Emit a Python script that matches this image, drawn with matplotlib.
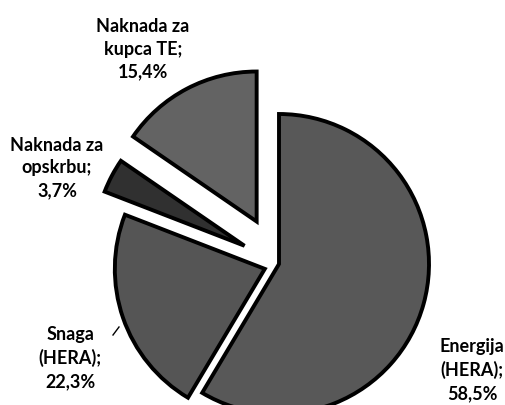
import matplotlib.pyplot as plt

# Cost structure shares (%)
labels = ["Energija\n(HERA);", "Snaga\n(HERA);", "Naknada za\nopskrbu;", "Naknada za\nkupca TE;"]
shares = [58.5, 22.3, 3.7, 15.4]
colors = ["#585858", "#555555", "#303030", "#636363"]
explode = [0, 15, 39, 48]

# label anchor points in figure pixels (x, y from top)
label_pos = [(472, 370), (70, 358), (57, 168), (143, 49)]

W, H = 505, 406
fig = plt.figure(figsize=(W / 100, H / 100), dpi=100)
ax = fig.add_axes([0, 0, 1, 1])

ax.pie(
    shares,
    colors=colors,
    explode=explode,
    startangle=90,
    counterclock=False,
    radius=150,
    center=(279, H - 265),
    frame=True,
    wedgeprops=dict(edgecolor="black", linewidth=2.8, joinstyle="miter"),
)
ax.set_xlim(0, W)
ax.set_ylim(0, H)
ax.set_aspect("equal")
ax.axis("off")

for lab, val, (x, y) in zip(labels, shares, label_pos):
    txt = lab + "\n" + f"{val:.1f}%".replace(".", ",")
    ax.text(x, H - y, txt, ha="center", va="center", fontsize=13,
            fontweight="bold", family="Lato", linespacing=1.4, color="black")

# short leader for the Snaga label
ax.plot([113, 119], [H - 336, H - 328], color="black", linewidth=1)

fig.savefig("out.png", dpi=100)
